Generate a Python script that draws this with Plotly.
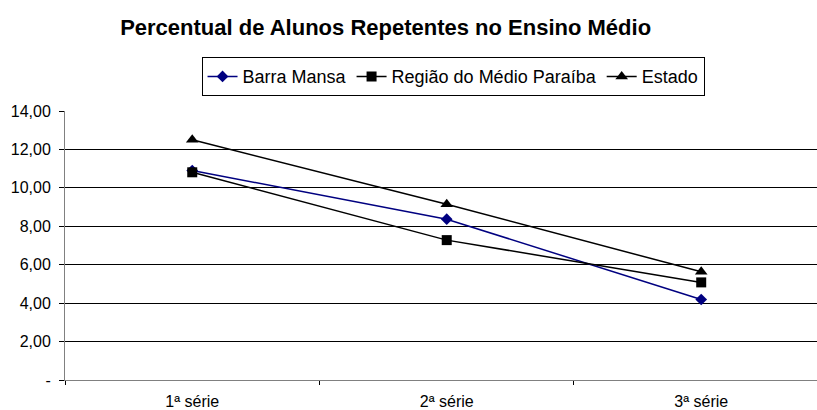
import plotly.graph_objects as go

categories = ["1ª série", "2ª série", "3ª série"]
barra_mansa = [10.90, 8.37, 4.19]
regiao_medio_paraiba = [10.81, 7.28, 5.08]
estado = [12.50, 9.15, 5.63]
y_tickvals = [0, 2, 4, 6, 8, 10, 12, 14]
y_ticktext = ["-", "2,00", "4,00", "6,00", "8,00", "10,00", "12,00", "14,00"]

FONT = "Liberation Sans, Arial, sans-serif"

fig = go.Figure()
fig.add_trace(go.Scatter(x=categories, y=barra_mansa, name="Barra Mansa",
                         mode="lines+markers",
                         line=dict(color="#000080", width=1.5),
                         marker=dict(symbol="diamond", size=9, color="#000080")))
fig.add_trace(go.Scatter(x=categories, y=regiao_medio_paraiba, name="Região do Médio Paraíba",
                         mode="lines+markers",
                         line=dict(color="#000000", width=1.5),
                         marker=dict(symbol="square", size=10, color="#000000")))
fig.add_trace(go.Scatter(x=categories, y=estado, name="Estado",
                         mode="lines+markers",
                         line=dict(color="#000000", width=1.5),
                         marker=dict(symbol="triangle-up", size=11, color="#000000")))

fig.update_layout(
    width=817, height=410,
    margin=dict(l=65, r=0, t=111, b=30),
    paper_bgcolor="white", plot_bgcolor="white",
    font=dict(family=FONT, color="black", size=16),
    title=dict(text="<b>Percentual de Alunos Repetentes no Ensino Médio</b>",
               font=dict(size=22, family=FONT, color="black"),
               xref="container", x=0.472, xanchor="center",
               yref="container", y=1 - 27 / 410, yanchor="middle"),
    legend=dict(orientation="h", xref="paper", x=0.516, xanchor="center",
                y=1.2, yanchor="top", bordercolor="black", borderwidth=1,
                font=dict(size=18, family=FONT), itemwidth=30,
                bgcolor="white", tracegroupgap=0),
    showlegend=True,
)
fig.update_xaxes(type="category", range=[-0.5, 2.455], showgrid=False,
                 showline=True, linecolor="#808080", linewidth=1,
                 ticks="outside", tickson="boundaries", ticklen=4,
                 tickcolor="black", ticklabelstandoff=7,
                 tickfont=dict(size=16, family=FONT))
fig.update_yaxes(range=[0, 14], tickvals=y_tickvals, ticktext=y_ticktext,
                 showgrid=True, gridcolor="black", gridwidth=1, zeroline=False,
                 showline=True, linecolor="#808080", linewidth=1,
                 ticks="outside", ticklen=5, tickcolor="black",
                 ticklabelstandoff=5,
                 tickfont=dict(size=16, family=FONT))

fig.write_html("out.html", config={"displayModeBar": False},
               post_script="document.body.style.margin='0';document.body.style.overflow='hidden';")
